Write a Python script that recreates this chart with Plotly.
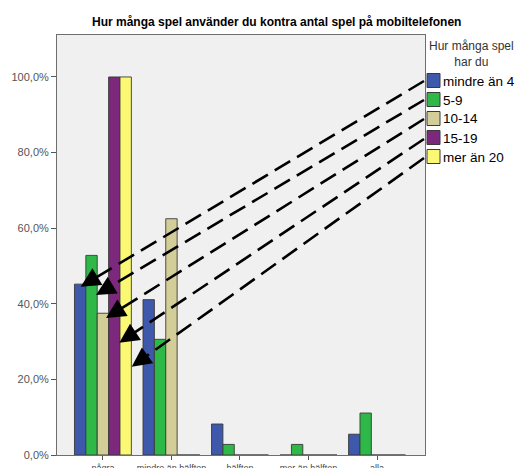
import plotly.graph_objects as go

# --- data -------------------------------------------------------------
categories = ["några", "mindre än hälften", "hälften", "mer än hälften", "alla"]
groups = ["mindre än 4", "5-9", "10-14", "15-19", "mer än 20"]

pct_mindre_an_4 = [45.2, 41.1, 8.2, 0.0, 5.5]
pct_5_9 = [52.8, 30.6, 2.8, 2.8, 11.1]
pct_10_14 = [37.5, 62.5, 0.0, 0.0, 0.0]
pct_15_19 = [100.0, 0.0, 0.0, 0.0, 0.0]
pct_mer_an_20 = [100.0, 0.0, 0.0, 0.0, 0.0]

series = [pct_mindre_an_4, pct_5_9, pct_10_14, pct_15_19, pct_mer_an_20]
colors = ["#3E58AC", "#2EB848", "#D3CE97", "#7C287D", "#FBF873"]

y_ticks = [0, 20, 40, 60, 80, 100]
y_tick_labels = [f"{v:.1f}".replace(".", ",") + "%" for v in y_ticks]

# --- page geometry (pixels) ------------------------------------------
W, H = 521, 468
ML, MR, MT, MB = 57, 96, 35, 13
PW, PH = W - ML - MR, H - MT - MB
FONT = "Arial, Liberation Sans, sans-serif"


def px_to_paper(px, py):
    return (px - ML) / PW, (H - MB - py) / PH


fig = go.Figure()
for name, vals, col in zip(groups, series, colors):
    fig.add_trace(go.Bar(
        x=categories, y=vals, name=name,
        marker=dict(color=col, line=dict(color="#3A3A3A", width=0.9)),
        showlegend=False,
    ))

fig.update_layout(
    width=W, height=H,
    margin=dict(l=ML, r=MR, t=MT, b=MB, pad=0),
    paper_bgcolor="white",
    plot_bgcolor="#F0F0F0",
    barmode="group", bargap=0.17, bargroupgap=0,
    font=dict(family=FONT, color="#333333"),
    title=dict(
        text="<b>Hur många spel använder du kontra antal spel på mobiltelefonen</b>",
        x=276.7 / W, xref="container", xanchor="center",
        y=1 - 22 / H, yref="container", yanchor="middle",
        font=dict(family=FONT, size=12, color="black"),
    ),
    xaxis=dict(
        range=[-0.67, 4.7], showgrid=False, zeroline=False,
        showline=True, linecolor="#6E6E6E", linewidth=1, mirror=True,
        ticks="outside", ticklen=4, tickcolor="#555555",
        tickfont=dict(family=FONT, size=9, color="#444444"),
        automargin=False,
    ),
    yaxis=dict(
        range=[0, 111.1], showgrid=False, zeroline=False,
        showline=True, linecolor="#6E6E6E", linewidth=1, mirror=True,
        tickmode="array", tickvals=y_ticks, ticktext=y_tick_labels,
        ticks="outside", ticklen=5, tickcolor="#555555",
        tickfont=dict(family=FONT, size=11, color="#555555"),
        automargin=False,
    ),
)

# --- hand-made legend to the right of the plot ------------------------
shapes = []
annotations = []
annotations.append(dict(
    text="Hur många spel<br>har du", xref="paper", yref="paper",
    x=px_to_paper(471, 0)[0], y=px_to_paper(0, 54.5)[1],
    xanchor="center", yanchor="middle", showarrow=False, align="center",
    font=dict(family=FONT, size=12, color="#333333"),
))
for i, (name, col) in enumerate(zip(groups, colors)):
    top = 73.5 + 19 * i
    x0, y0 = px_to_paper(427, top + 14)
    x1, y1 = px_to_paper(440, top)
    shapes.append(dict(type="rect", xref="paper", yref="paper",
                       x0=x0, y0=y0, x1=x1, y1=y1,
                       fillcolor=col, line=dict(color="#3A3A3A", width=1)))
    tx, ty = px_to_paper(441.5, top + 7.5)
    annotations.append(dict(
        text=name, xref="paper", yref="paper", x=tx, y=ty,
        xanchor="left", yanchor="middle", showarrow=False,
        font=dict(family=FONT, size=13.5, color="black"),
    ))

# --- dashed pointer arrows from legend entries to the bars -------------
arrow_tails = [(424, 81), (424, 100), (424, 119), (424, 139), (424, 158)]
arrow_tips = [(80.7, 286.7), (96.0, 295.0), (106.0, 318.0), (119.3, 342.7), (131.7, 366.7)]
for (tx, ty), (hx, hy) in zip(arrow_tails, arrow_tips):
    dx, dy = tx - hx, ty - hy
    n = (dx * dx + dy * dy) ** 0.5
    ux, uy = dx / n, dy / n
    # dashed shaft, stopping under the arrowhead
    sx, sy = hx + ux * 10, hy + uy * 10
    p0 = px_to_paper(tx, ty)
    p1 = px_to_paper(sx, sy)
    shapes.append(dict(type="line", xref="paper", yref="paper",
                       x0=p0[0], y0=p0[1], x1=p1[0], y1=p1[1],
                       line=dict(color="black", width=2.6, dash="18px,8px")))
    # filled arrowhead
    hp = px_to_paper(hx, hy)
    annotations.append(dict(
        x=hp[0], y=hp[1], xref="paper", yref="paper",
        ax=ux * 20, ay=uy * 20, axref="pixel", ayref="pixel",
        showarrow=True, arrowhead=2, arrowsize=1.5, arrowwidth=2.6,
        arrowcolor="black", text="",
    ))

fig.update_layout(shapes=shapes, annotations=annotations)
fig.write_html("out.html")
